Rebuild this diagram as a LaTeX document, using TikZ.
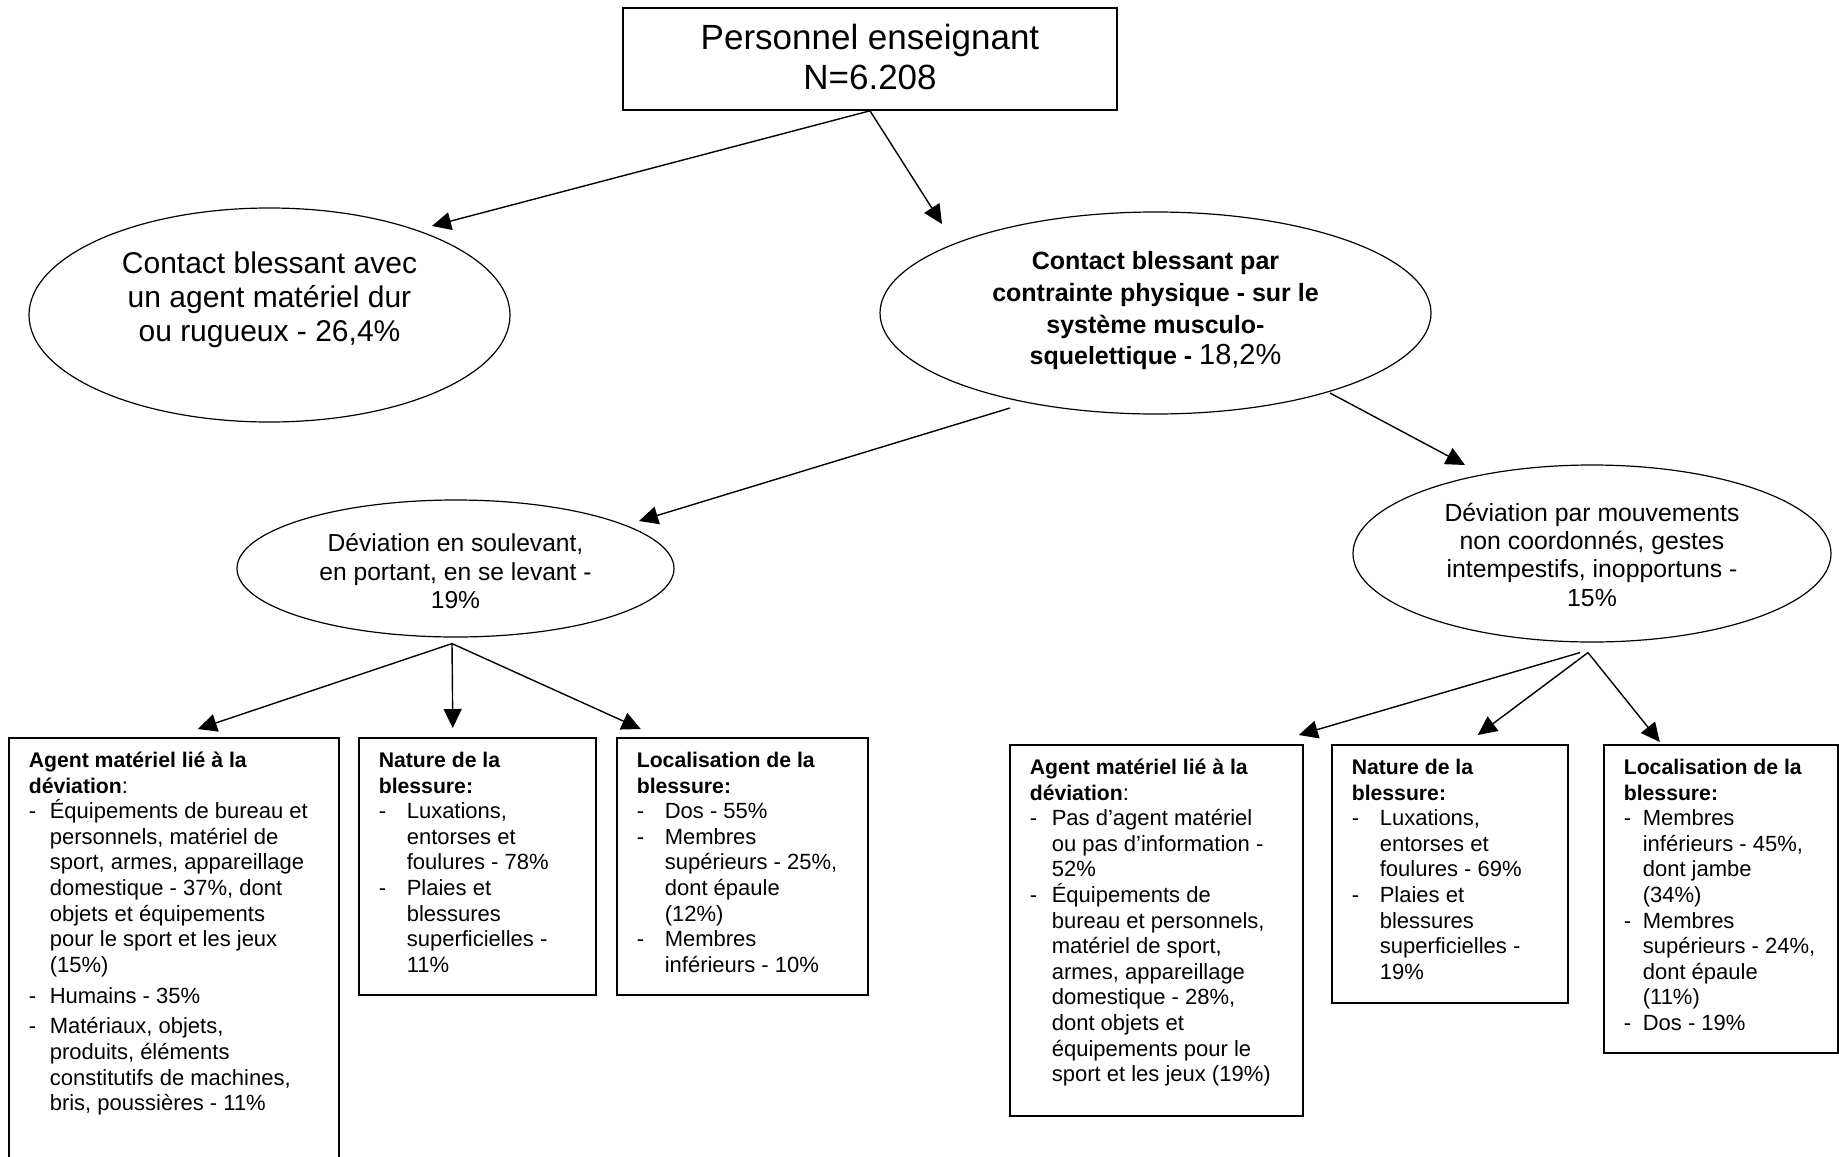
\documentclass[tikz,border=0pt]{standalone}
\usepackage{fontspec}
\setmainfont{Liberation Sans}
\usetikzlibrary{arrows.meta,shapes.geometric}

% one list entry: a hyphen in front, wrapped lines hang under the text
\newcommand\dashitem[2]{\par\hangindent=#1\hangafter=1\noindent\makebox[#1][l]{-}#2}
% forced line break that keeps the hanging indentation
\newcommand\lbr{\newline}
% bold heading of a box
\newcommand\hd[1]{{\fontsize{10.6}{12.8}\selectfont\bfseries #1}}
% centred lines, first baseline raised by #1 above the node centre
\newcommand\centred[3]{\raisebox{#1}[0pt][0pt]{#2\begin{tabular}[t]{@{}c@{}}#3\end{tabular}}}
% top-aligned box content of given height and width
\newcommand\boxtext[3]{\parbox[t][#1][t]{#2}{\raggedright\rule{0pt}{14.8pt}#3}}

\tikzset{
  titlebox/.style={draw, rectangle, line width=0.8pt, inner sep=0pt},
  oval/.style={draw, ellipse, line width=0.6pt, inner sep=0pt},
  infobox/.style={draw, rectangle, line width=0.8pt, anchor=north west,
    inner xsep=10pt, inner ysep=0pt, font=\fontsize{11}{12.8}\selectfont},
  arrow/.style={-{Triangle[length=9.5pt,width=9pt]}, line width=0.7pt}
}

\begin{document}
\begin{tikzpicture}[x=0.5pt, y=-0.5pt]
\useasboundingbox (0,0) rectangle (1839,1156);
\fill[white] (0,0) rectangle (1839,1156);

% ---- top of the tree
\node[titlebox, minimum width=247pt, minimum height=51pt] (top) at (870,59)
  {\centred{4.95pt}{\fontsize{17.5}{20}\selectfont}{Personnel enseignant\\N=6.208}};

% ---- first level
\node[oval, minimum width=240.5pt, minimum height=107pt] (e1) at (269.5,315)
  {\centred{20.7pt}{\fontsize{15}{17}\selectfont}{Contact blessant avec\\un agent matériel dur\\ou rugueux - 26,4\%}};
\node[oval, minimum width=275.5pt, minimum height=101pt] (e2) at (1155.5,313)
  {\centred{21.6pt}{\fontsize{12.5}{15.8}\selectfont\bfseries}{Contact blessant par\\contrainte physique - sur le\\système musculo-\\squelettique - {\fontsize{14.5}{15.8}\selectfont\mdseries 18,2\%}}};

% ---- second level
\node[oval, minimum width=218.5pt, minimum height=68.5pt] (e3) at (455.5,568.5)
  {\centred{8.4pt}{\fontsize{12.3}{14.2}\selectfont}{Déviation en soulevant,\\en portant, en se levant -\\19\%}};
\node[oval, minimum width=239pt, minimum height=88.5pt] (e4) at (1592,553.5)
  {\centred{16.2pt}{\fontsize{12.4}{14.2}\selectfont}{Déviation par mouvements\\non coordonnés, gestes\\intempestifs, inopportuns -\\15\%}};

% ---- detail boxes, left branch
\node[infobox] (boxA) at (8,737) {\boxtext{221.5pt}{145pt}{%
  \hd{Agent matériel lié à la}\lbr\hd{déviation}:
  \dashitem{10.5pt}{Équipements de bureau et\lbr personnels, matériel de\lbr sport, armes, appareillage\lbr domestique - 37\%, dont\lbr objets et équipements\lbr pour le sport et les jeux\lbr (15\%)}
  \setlength\parskip{2.6pt}%
  \dashitem{10.5pt}{Humains - 35\%}
  \dashitem{10.5pt}{Matériaux, objets,\lbr produits, éléments\lbr constitutifs de machines,\lbr bris, poussières - 11\%}}};

\node[infobox] (boxB) at (358,737) {\boxtext{128.5pt}{98.5pt}{%
  \hd{Nature de la}\lbr\hd{blessure:}
  \dashitem{14pt}{Luxations,\lbr entorses et\lbr foulures - 78\%}
  \dashitem{14pt}{Plaies et\lbr blessures\lbr superficielles -\lbr 11\%}}};

\node[infobox] (boxC) at (616,737) {\boxtext{128.5pt}{105.5pt}{%
  \hd{Localisation de la}\lbr\hd{blessure:}
  \dashitem{14pt}{Dos - 55\%}
  \dashitem{14pt}{Membres\lbr supérieurs - 25\%,\lbr dont épaule\lbr (12\%)}
  \dashitem{14pt}{Membres\lbr inférieurs - 10\%}}};

% ---- detail boxes, right branch
\node[infobox] (boxD) at (1009,744) {\boxtext{185.5pt}{126.5pt}{%
  \hd{Agent matériel lié à la}\lbr\hd{déviation}:
  \dashitem{11pt}{Pas d’agent matériel\lbr ou pas d’information -\lbr 52\%}
  \dashitem{11pt}{Équipements de\lbr bureau et personnels,\lbr matériel de sport,\lbr armes, appareillage\lbr domestique - 28\%,\lbr dont objets et\lbr équipements pour le\lbr sport et les jeux (19\%)}}};

\node[infobox] (boxE) at (1331,744) {\boxtext{129pt}{98pt}{%
  \hd{Nature de la}\lbr\hd{blessure:}
  \dashitem{14pt}{Luxations,\lbr entorses et\lbr foulures - 69\%}
  \dashitem{14pt}{Plaies et\lbr blessures\lbr superficielles -\lbr 19\%}}};

\node[infobox] (boxF) at (1603,744) {\boxtext{154pt}{97pt}{%
  \hd{Localisation de la}\lbr\hd{blessure:}
  \dashitem{9.5pt}{Membres\lbr inférieurs - 45\%,\lbr dont jambe\lbr (34\%)}
  \dashitem{9.5pt}{Membres\lbr supérieurs - 24\%,\lbr dont épaule\lbr (11\%)}
  \dashitem{9.5pt}{Dos - 19\%}}};

% ---- connectors
\draw[arrow] (top.south) -- ([shift={(162.5,-89)}]e1.center);
\draw[arrow] (top.south) -- ([shift={(-213.5,-89)}]e2.center);
\draw[arrow] ([shift={(-145.5,95)}]e2.center) -- ([shift={(183.5,-47.5)}]e3.center);
\draw[arrow] ([shift={(174.5,80)}]e2.center) -- ([shift={(-127,-88.5)}]e4.center);
\draw[arrow] ([shift={(-3.5,6)}]e3.south) -- ([shift={(24,-8)}]boxA.north);
\draw[arrow] ([shift={(-3.5,6)}]e3.south) -- ([shift={(-24.5,-9)}]boxB.north);
\draw[arrow] ([shift={(-3.5,6)}]e3.south) -- ([shift={(-101.5,-8)}]boxC.north);
\draw[arrow] ([shift={(-12,10)}]e4.south) -- ([shift={(142.5,-9)}]boxD.north);
\draw[arrow] ([shift={(-4,10)}]e4.south) -- ([shift={(28,-9)}]boxE.north);
\draw[arrow] ([shift={(-4,10)}]e4.south) -- ([shift={(-61,-2)}]boxF.north);
\end{tikzpicture}
\end{document}
